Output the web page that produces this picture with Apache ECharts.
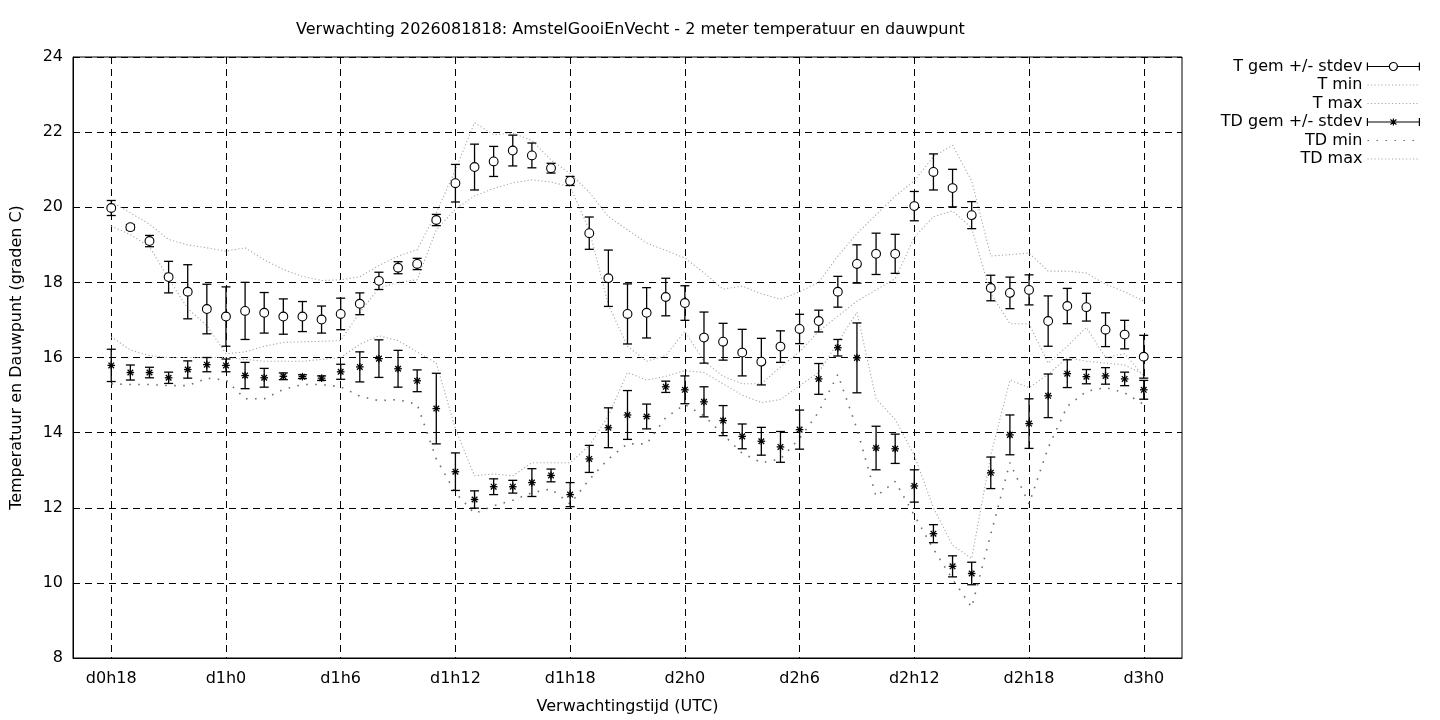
<!DOCTYPE html>
<html><head><meta charset="utf-8">
<script src="https://cdn.jsdelivr.net/npm/echarts@6/dist/echarts.min.js"></script>
<style>html,body{margin:0;padding:0;background:#fff}#c{width:1440px;height:720px}</style>
</head><body><div id="c"></div>
<script>
// x-axis categories (hourly, whole axis range)
const categories = ['d0h16','d0h17','d0h18','d0h19','d0h20','d0h21','d0h22','d0h23',
 'd1h0','d1h1','d1h2','d1h3','d1h4','d1h5','d1h6','d1h7','d1h8','d1h9','d1h10','d1h11','d1h12','d1h13','d1h14','d1h15','d1h16','d1h17','d1h18','d1h19','d1h20','d1h21','d1h22','d1h23',
 'd2h0','d2h1','d2h2','d2h3','d2h4','d2h5','d2h6','d2h7','d2h8','d2h9','d2h10','d2h11','d2h12','d2h13','d2h14','d2h15','d2h16','d2h17','d2h18','d2h19','d2h20','d2h21','d2h22','d2h23',
 'd3h0','d3h1','d3h2'];
const tickLabels = ['d0h18','d1h0','d1h6','d1h12','d1h18','d2h0','d2h6','d2h12','d2h18','d3h0'];
// forecast times of the data points
const times = ['d0h18','d0h19','d0h20','d0h21','d0h22','d0h23',
 'd1h0','d1h1','d1h2','d1h3','d1h4','d1h5','d1h6','d1h7','d1h8','d1h9','d1h10','d1h11','d1h12','d1h13','d1h14','d1h15','d1h16','d1h17','d1h18','d1h19','d1h20','d1h21','d1h22','d1h23',
 'd2h0','d2h1','d2h2','d2h3','d2h4','d2h5','d2h6','d2h7','d2h8','d2h9','d2h10','d2h11','d2h12','d2h13','d2h14','d2h15','d2h16','d2h17','d2h18','d2h19','d2h20','d2h21','d2h22','d2h23',
 'd3h0'];
const tMean = [19.98,19.47,19.1,18.14,17.75,17.29,17.09,17.24,17.19,17.09,
 17.09,17.01,17.16,17.43,18.04,18.39,18.49,19.66,20.64,21.07,
 21.22,21.51,21.38,21.04,20.70,19.31,18.11,17.16,17.19,17.61,
 17.45,16.53,16.42,16.13,15.89,16.29,16.76,16.97,17.75,18.49,
 18.76,18.76,20.03,20.94,20.51,19.79,17.85,17.72,17.80,16.97,
 17.37,17.34,16.74,16.61,16.02];
const tStd = [0.2,0.07,0.15,0.42,0.72,0.66,0.79,0.76,0.54,0.47,
 0.4,0.36,0.42,0.29,0.23,0.16,0.15,0.15,0.5,0.61,
 0.4,0.41,0.33,0.13,0.12,0.43,0.75,0.8,0.67,0.5,
 0.46,0.68,0.49,0.62,0.62,0.42,0.39,0.29,0.41,0.51,
 0.55,0.52,0.39,0.48,0.5,0.36,0.34,0.42,0.4,0.67,
 0.47,0.37,0.45,0.38,0.57];
const tMin = [19.5,19.27,18.95,18.1,17.3,16.85,16.1,16.15,16.3,16.4,
 16.42,16.43,16.45,17.2,17.85,18.0,18.07,19.4,19.95,20.3,
 20.5,20.65,20.73,20.67,20.55,19.4,17.4,16.3,15.9,16.05,
 16.7,15.9,15.5,15.3,15.3,15.75,16.15,16.7,17.1,17.5,
 17.8,18.1,19.2,19.75,19.9,19.45,17.7,16.9,16.9,15.85,
 16.3,16.8,16.0,16.1,15.5];
const tMax = [20.15,19.85,19.55,19.14,19.0,18.92,18.83,18.92,18.6,18.34,
 18.16,18.05,18.07,18.15,18.45,18.7,18.87,19.85,21.0,22.25,
 21.93,21.97,21.78,21.26,20.9,20.4,19.75,19.4,19.05,18.85,
 18.65,18.25,17.82,17.9,17.7,17.55,17.75,18.0,18.7,19.3,
 19.8,20.3,20.7,21.35,21.65,20.7,18.7,18.74,18.78,18.3,
 18.3,18.25,17.95,17.75,17.5];
const tdMean = [15.79,15.60,15.60,15.46,15.68,15.81,15.79,15.52,15.46,15.50,
 15.49,15.45,15.62,15.75,15.97,15.70,15.38,14.64,12.96,12.22,
 12.56,12.56,12.67,12.86,12.35,13.30,14.13,14.47,14.43,15.22,
 15.14,14.82,14.32,13.90,13.77,13.62,14.08,15.43,16.26,15.99,
 13.59,13.57,12.58,11.31,10.44,10.25,12.93,13.94,14.24,14.98,
 15.57,15.49,15.51,15.43,15.14];
const tdStd = [0.43,0.2,0.14,0.15,0.23,0.19,0.17,0.35,0.25,0.09,
 0.05,0.06,0.2,0.4,0.5,0.49,0.29,0.94,0.5,0.23,
 0.21,0.17,0.37,0.17,0.32,0.36,0.53,0.65,0.33,0.15,
 0.37,0.4,0.4,0.33,0.37,0.41,0.52,0.41,0.22,0.93,
 0.58,0.39,0.43,0.24,0.28,0.3,0.42,0.53,0.66,0.58,
 0.37,0.19,0.22,0.18,0.25];
const tdMin = [15.3,15.28,15.28,15.25,15.25,15.45,15.4,14.9,14.9,15.15,
 15.28,15.28,15.22,14.97,14.85,14.88,14.75,13.3,12.4,11.85,
 12.05,12.2,12.4,12.5,12.1,12.75,13.3,13.7,13.7,14.4,
 14.75,14.45,13.95,13.45,13.2,13.3,13.85,14.55,15.55,14.1,
 12.3,12.7,11.8,10.9,10.1,9.35,11.3,13.2,12.1,13.6,
 14.7,15.1,15.2,15.06,14.75];
const tdMax = [16.55,16.2,16.05,16.0,16.0,16.0,16.0,15.95,15.9,15.9,
 15.9,15.95,16.0,16.35,16.58,16.45,16.15,15.85,14.1,12.85,
 12.9,12.85,13.2,13.2,13.2,13.65,14.45,15.6,15.4,15.5,
 15.65,15.6,15.3,15.0,14.8,14.88,15.25,15.6,16.4,17.2,
 14.9,14.35,13.4,12.0,11.0,10.65,13.4,15.4,15.2,15.55,
 16.0,15.9,15.85,15.8,15.55];

const FONT = 'DejaVu Sans';
const FS = 16;
const showTick = (idx, val) => tickLabels.indexOf(val) >= 0;
const gridDash = {color:'#000', width:1, type:[7,5]};

function errRender(kind) {
  return function (params, api) {
    const xi = api.value(0), m = api.value(1), s = api.value(2);
    const c = api.coord([xi, m]);
    const p1 = api.coord([xi, m + s]);
    const p2 = api.coord([xi, m - s]);
    const hw = 4.5;
    const st = {stroke:'#000', lineWidth:1.3};
    const ch = [
      {type:'line', shape:{x1:c[0], y1:p1[1], x2:c[0], y2:p2[1]}, style:st},
      {type:'line', shape:{x1:c[0]-hw, y1:p1[1], x2:c[0]+hw, y2:p1[1]}, style:st},
      {type:'line', shape:{x1:c[0]-hw, y1:p2[1], x2:c[0]+hw, y2:p2[1]}, style:st}
    ];
    if (kind === 'circle') {
      ch.push({type:'circle', shape:{cx:c[0], cy:c[1], r:4.4}, style:{fill:'#fff', stroke:'#000', lineWidth:1.1}});
    } else {
      const r = 3.8, d = 2.8;
      const ss = {stroke:'#000', lineWidth:1.3};
      ch.push({type:'line', shape:{x1:c[0], y1:c[1]-r, x2:c[0], y2:c[1]+r}, style:ss});
      ch.push({type:'line', shape:{x1:c[0]-r, y1:c[1], x2:c[0]+r, y2:c[1]}, style:ss});
      ch.push({type:'line', shape:{x1:c[0]-d, y1:c[1]-d, x2:c[0]+d, y2:c[1]+d}, style:ss});
      ch.push({type:'line', shape:{x1:c[0]-d, y1:c[1]+d, x2:c[0]+d, y2:c[1]-d}, style:ss});
    }
    return {type:'group', children: ch};
  };
}

const lightDots = {color:'#a8a8a8', width:1.1, type:[1.2,2.3]};
const darkDots = {color:'#707070', width:1.6, type:[1.6,7.4]};

const iconT = 'path://M0,0L0,8M52,0L52,8M0,4L22,4M30,4L52,4M30,4A4,4,0,1,1,22,4A4,4,0,1,1,30,4';
const iconTD = 'path://M0,0L0,8M52,0L52,8M0,4L52,4M26,0.5L26,7.5M23,1.5L29,6.5M23,6.5L29,1.5';
const hiddenSymbol = {color:'transparent', borderColor:'transparent', borderWidth:0, opacity:0};

function legendRow(name, top, extra) {
  return Object.assign({
    data: [{name: name, itemStyle: hiddenSymbol}], right: 20, top: top, orient: 'vertical', align: 'right',
    itemWidth: 52, itemHeight: 8, padding: 0, selectedMode: false,
    textStyle: {fontSize: FS, color: '#000', fontFamily: FONT},
    lineStyle: {width: 1.1}
  }, extra || {});
}

const chart = echarts.init(document.getElementById('c'), null, {renderer: 'canvas'});
chart.setOption({
  animation: false,
  backgroundColor: '#fff',
  textStyle: {fontFamily: FONT},
  title: {
    text: 'Verwachting 2026081818: AmstelGooiEnVecht - 2 meter temperatuur en dauwpunt',
    left: 296, top: 22, padding: 0,
    textStyle: {fontSize: FS, fontWeight: 'normal', color: '#000', fontFamily: FONT}
  },
  legend: [
    legendRow('T gem +/- stdev', 58.5, {data: [{name:'T gem +/- stdev', icon: iconT, itemStyle:{color:'transparent', borderColor:'#000', borderWidth:1.2}}]}),
    legendRow('T min', 77),
    legendRow('T max', 95.5),
    legendRow('TD gem +/- stdev', 114, {data: [{name:'TD gem +/- stdev', icon: iconTD, itemStyle:{color:'transparent', borderColor:'#000', borderWidth:1.2}}]}),
    legendRow('TD min', 132.5),
    legendRow('TD max', 151)
  ],
  grid: {left: 73, right: 258, top: 57, bottom: 61, show: true, borderColor: '#000', borderWidth: 1, backgroundColor: 'transparent'},
  xAxis: {
    type: 'category', data: categories, boundaryGap: false,
    axisLine: {show: true, lineStyle: {color: '#000', width: 1}},
    axisTick: {show: false},
    axisLabel: {interval: showTick, fontSize: FS, color: '#000', margin: 13, fontFamily: FONT},
    splitLine: {show: true, interval: showTick, lineStyle: gridDash},
    name: 'Verwachtingstijd (UTC)', nameLocation: 'middle', nameGap: 41,
    nameTextStyle: {fontSize: FS, color: '#000', fontFamily: FONT}
  },
  yAxis: {
    type: 'value', min: 8, max: 24, interval: 2,
    axisLine: {show: true, lineStyle: {color: '#000', width: 1}},
    axisTick: {show: false},
    axisLabel: {fontSize: FS, color: '#000', margin: 10, fontFamily: FONT},
    splitLine: {show: true, lineStyle: gridDash},
    name: 'Temperatuur en Dauwpunt (graden C)', nameLocation: 'middle', nameGap: 48,
    nameTextStyle: {fontSize: FS, color: '#000', fontFamily: FONT}
  },
  series: [
    {name: 'T gem +/- stdev', type: 'custom', renderItem: errRender('circle'),
     encode: {x: 0, y: 1}, itemStyle: {color: '#000'},
     data: times.map((t, i) => [t, tMean[i], tStd[i]]), z: 3},
    {name: 'T min', type: 'line', symbol: 'none', lineStyle: lightDots, itemStyle: {color: '#a8a8a8'},
     data: times.map((t, i) => [t, tMin[i]]), z: 2},
    {name: 'T max', type: 'line', symbol: 'none', lineStyle: lightDots, itemStyle: {color: '#a8a8a8'},
     data: times.map((t, i) => [t, tMax[i]]), z: 2},
    {name: 'TD gem +/- stdev', type: 'custom', renderItem: errRender('star'),
     encode: {x: 0, y: 1}, itemStyle: {color: '#000'},
     data: times.map((t, i) => [t, tdMean[i], tdStd[i]]), z: 3},
    {name: 'TD min', type: 'line', symbol: 'none', lineStyle: darkDots, itemStyle: {color: '#707070'},
     data: times.map((t, i) => [t, tdMin[i]]), z: 2},
    {name: 'TD max', type: 'line', symbol: 'none', lineStyle: lightDots, itemStyle: {color: '#a8a8a8'},
     data: times.map((t, i) => [t, tdMax[i]]), z: 2}
  ]
});
</script>
</body></html>
